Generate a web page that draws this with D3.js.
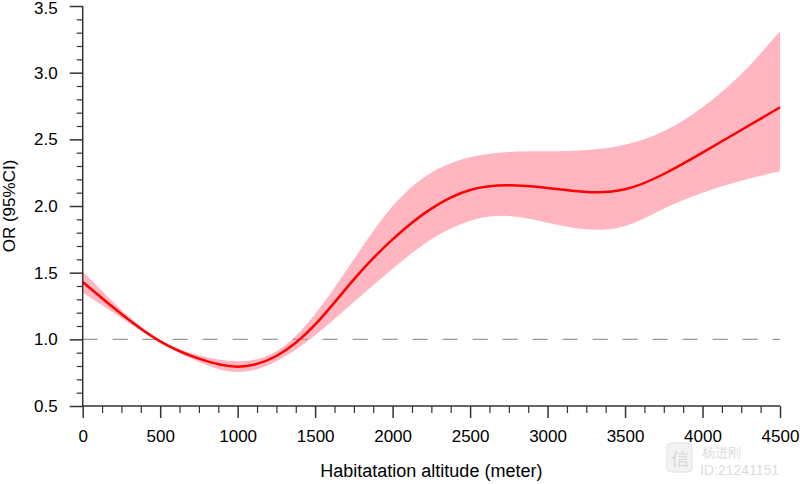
<!DOCTYPE html>
<html>
<head>
<meta charset="utf-8">
<script src="https://cdn.jsdelivr.net/npm/d3@7"></script>
<style>
  html, body { margin: 0; padding: 0; background: #fff; }
  svg { display: block; }
  text { font-family: "Liberation Sans", Arial, Helvetica, sans-serif; }
</style>
</head>
<body>
<svg id="chart" width="800" height="484"></svg>
<script>
// ---- data ----
const altitude = [0, 250, 500, 750, 1000, 1250, 1500, 1750, 2000, 2250, 2500, 2750, 3000, 3250, 3500, 3750, 4000, 4250, 4500];
const orValue  = [1.43, 1.19, 0.985, 0.855, 0.795, 0.875, 1.11, 1.45, 1.75, 1.98, 2.12, 2.155, 2.135, 2.105, 2.125, 2.24, 2.40, 2.57, 2.74];
const ciUpper  = [1.51, 1.22, 0.995, 0.88, 0.835, 0.91, 1.19, 1.60, 2.00, 2.25, 2.365, 2.405, 2.41, 2.42, 2.46, 2.56, 2.74, 2.99, 3.31];
const ciLower  = [1.35, 1.16, 0.975, 0.83, 0.755, 0.835, 1.03, 1.28, 1.53, 1.75, 1.89, 1.925, 1.875, 1.825, 1.85, 1.98, 2.10, 2.19, 2.26];
const xTicks = [0, 500, 1000, 1500, 2000, 2500, 3000, 3500, 4000, 4500];
const yTicks = [0.5, 1.0, 1.5, 2.0, 2.5, 3.0, 3.5];
const refValue = 1.0;
const xTitle = "Habitatation altitude (meter)";
const yTitle = "OR (95%CI)";

// ---- layout ----
const svg = d3.select("#chart");
const pL = 82.7, pR = 780, pT = 6, pB = 406;
const x = d3.scaleLinear().domain([0, 4500]).range([pL, pR]);
const y = d3.scaleLinear().domain([0.5, 3.5]).range([pB, pT]);

const rows = altitude.map((a, i) => ({a, v: orValue[i], hi: ciUpper[i], lo: ciLower[i]}));

// band
svg.append("path")
  .datum(rows)
  .attr("fill", "#ffb6c1")
  .attr("d", d3.area().x(d => x(d.a)).y0(d => y(d.lo)).y1(d => y(d.hi)).curve(d3.curveNatural));

// reference line
svg.append("line")
  .attr("x1", x(0)).attr("x2", x(4500))
  .attr("y1", y(refValue)).attr("y2", y(refValue))
  .attr("stroke", "#999").attr("stroke-width", 1.2)
  .attr("stroke-dasharray", "15,15");

// main line
svg.append("path")
  .datum(rows)
  .attr("fill", "none")
  .attr("stroke", "#ff0000")
  .attr("stroke-width", 2.5)
  .attr("d", d3.line().x(d => x(d.a)).y(d => y(d.v)).curve(d3.curveNatural));

// axes
const axisColor = "#333";
const xMinor = d3.range(0, 4501, 125).filter(v => v % 500 !== 0);
const yMinor = d3.range(0.5, 3.501, 0.1).filter(v => Math.abs(v * 2 - Math.round(v * 2)) > 1e-6);

const gx = svg.append("g").attr("transform", `translate(0,${pB})`);
gx.call(d3.axisBottom(x).tickValues(xMinor).tickSize(7).tickFormat(""));
gx.selectAll(".tick line").attr("stroke", axisColor).attr("stroke-width", 1.2);
gx.select(".domain").remove();
const gx2 = svg.append("g").attr("transform", `translate(0,${pB})`);
gx2.call(d3.axisBottom(x).tickValues(xTicks).tickSize(12).tickPadding(12).tickFormat(d3.format("d")));
gx2.select(".domain").attr("stroke", axisColor).attr("stroke-width", 1.5).attr("d", `M${pL},0H${pR}`);
gx2.selectAll(".tick line").attr("stroke", axisColor).attr("stroke-width", 1.5);
gx2.selectAll(".tick text").attr("fill", "#000").attr("font-size", 17).attr("font-family", "Liberation Sans, Arial, sans-serif");

const gy = svg.append("g").attr("transform", `translate(${pL},0)`);
gy.call(d3.axisLeft(y).tickValues(yMinor).tickSize(6).tickFormat(""));
gy.selectAll(".tick line").attr("stroke", axisColor).attr("stroke-width", 1.2);
gy.select(".domain").remove();
const gy2 = svg.append("g").attr("transform", `translate(${pL},0)`);
gy2.call(d3.axisLeft(y).tickValues(yTicks).tickSize(13).tickPadding(12).tickFormat(d3.format(".1f")));
gy2.select(".domain").attr("stroke", axisColor).attr("stroke-width", 1.5).attr("d", `M0,${pT}V${pB}`);
gy2.selectAll(".tick line").attr("stroke", axisColor).attr("stroke-width", 1.5);
gy2.selectAll(".tick text").attr("fill", "#000").attr("font-size", 17).attr("font-family", "Liberation Sans, Arial, sans-serif");
// keep top label inside the frame
gy2.selectAll(".tick text").filter(d => d === 3.5).attr("dy", "0.38em").attr("y", 1.5);

// titles
svg.append("text")
  .attr("x", (pL + pR) / 2).attr("y", 477)
  .attr("text-anchor", "middle").attr("font-size", 18).attr("fill", "#000")
  .text(xTitle);
svg.append("text")
  .attr("transform", `translate(15,${(pT + pB) / 2}) rotate(-90)`)
  .attr("text-anchor", "middle").attr("font-size", 17).attr("fill", "#000")
  .text(yTitle);

// watermark
const wm = svg.append("g").attr("opacity", 0.85);
wm.append("rect").attr("x", 667).attr("y", 443).attr("width", 25).attr("height", 29).attr("rx", 4)
  .attr("fill", "#f2f2f2").attr("stroke", "#ddd");
wm.append("text").attr("x", 679.5).attr("y", 465).attr("text-anchor", "middle")
  .attr("font-size", 18).attr("fill", "#cfcfcf").attr("font-family", "Noto Sans CJK SC").text("信");
wm.append("text").attr("x", 702).attr("y", 457).attr("font-size", 13).attr("fill", "#d8d8d8")
  .attr("font-family", "Noto Sans CJK SC").text("杨进刚");
wm.append("text").attr("x", 700).attr("y", 475).attr("font-size", 14).attr("fill", "#d8d8d8")
  .text("ID:21241151");
</script>
</body>
</html>
